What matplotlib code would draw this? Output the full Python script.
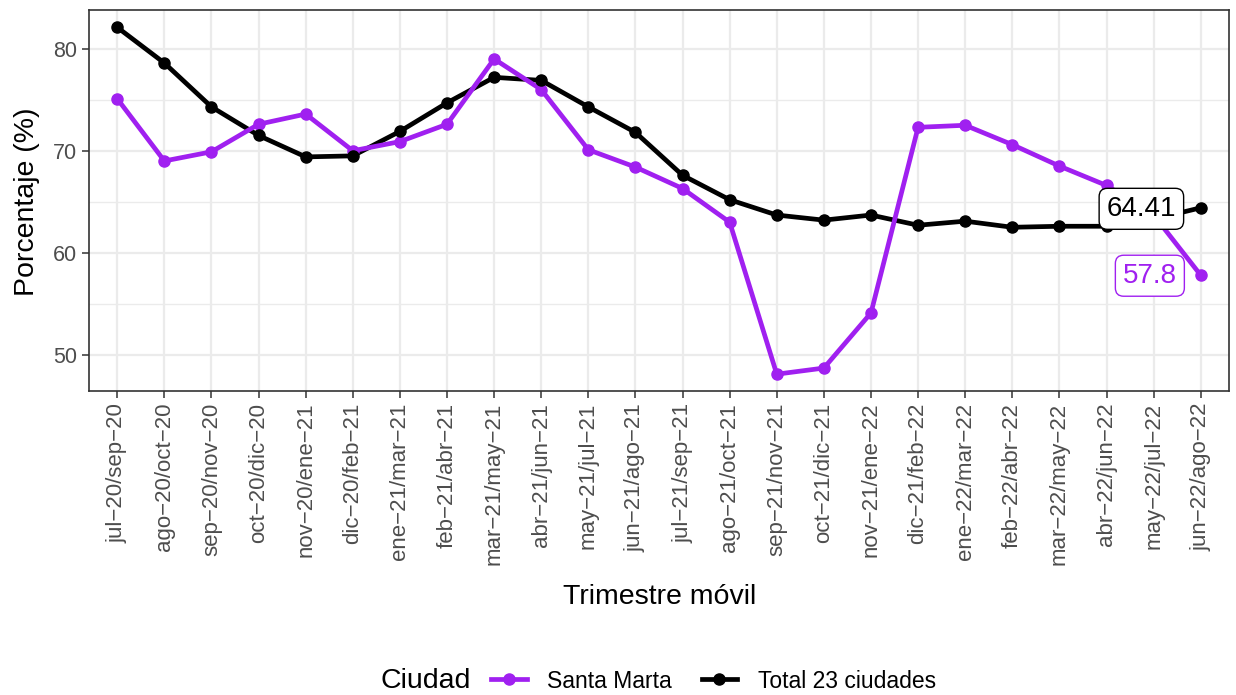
import matplotlib
matplotlib.use('Agg')
import matplotlib.pyplot as plt
from matplotlib.lines import Line2D
from matplotlib.ticker import FixedLocator

periodos = ["jul-20/sep-20", "ago-20/oct-20", "sep-20/nov-20", "oct-20/dic-20",
            "nov-20/ene-21", "dic-20/feb-21", "ene-21/mar-21", "feb-21/abr-21",
            "mar-21/may-21", "abr-21/jun-21", "may-21/jul-21", "jun-21/ago-21",
            "jul-21/sep-21", "ago-21/oct-21", "sep-21/nov-21", "oct-21/dic-21",
            "nov-21/ene-22", "dic-21/feb-22", "ene-22/mar-22", "feb-22/abr-22",
            "mar-22/may-22", "abr-22/jun-22", "may-22/jul-22", "jun-22/ago-22"]

santa_marta = [75.1, 69.0, 69.9, 72.6, 73.6, 70.0, 70.9, 72.6, 79.0, 76.0, 70.1, 68.4,
               66.3, 63.0, 48.1, 48.7, 54.1, 72.3, 72.5, 70.6, 68.5, 66.6, 63.7, 57.8]

total_23 = [82.1, 78.6, 74.3, 71.5, 69.4, 69.5, 71.9, 74.7, 77.2, 76.9, 74.3, 71.8,
            67.6, 65.2, 63.7, 63.2, 63.7, 62.7, 63.1, 62.5, 62.6, 62.6, 63.3, 64.41]

series_names = ["Santa Marta", "Total 23 ciudades"]
colors = ["#A020F0", "#000000"]

plt.rcParams['font.family'] = ['Liberation Sans', 'DejaVu Sans']

W, H = 1236, 695
fig = plt.figure(figsize=(W / 100, H / 100), dpi=100)
ax = fig.add_axes([89 / W, 1 - 391 / H, 1140 / W, 381 / H])

x = list(range(len(periodos)))
ax.plot(x, total_23, color=colors[1], lw=3.4, zorder=3, solid_capstyle='butt')
ax.plot(x, santa_marta, color=colors[0], lw=3.4, zorder=3, solid_capstyle='butt')
ax.plot(x, santa_marta, 'o', color=colors[0], ms=8, zorder=4)
ax.plot(x, total_23, 'o', color=colors[1], ms=8, zorder=4)

ax.set_xlim(-0.6, len(periodos) - 1 + 0.6)
ax.set_ylim(46.45, 83.8)
ax.yaxis.set_major_locator(FixedLocator([50, 60, 70, 80]))
ax.yaxis.set_minor_locator(FixedLocator([45, 55, 65, 75, 85]))
ax.set_xticks(x)
ax.set_xticklabels([p.replace('-', '\u2212') for p in periodos], rotation=90,
                   fontsize=16, color='#4D4D4D', va='top', ha='center')
ax.tick_params(axis='y', which='major', labelsize=15.5, labelcolor='#4D4D4D', pad=3.5)
ax.tick_params(axis='x', which='major', pad=3.5)
ax.tick_params(axis='both', which='major', color='#333333', length=5, width=1.1)
ax.tick_params(axis='y', which='minor', length=0)

ax.grid(True, which='major', color='#EBEBEB', lw=1.6, zorder=0)
ax.grid(True, which='minor', axis='y', color='#EBEBEB', lw=1.0, zorder=0)
ax.set_axisbelow(True)
for s in ax.spines.values():
    s.set_color('#333333')
    s.set_linewidth(1.2)

# end labels
n = len(periodos) - 1
ax.text(n - 1.26, total_23[-1] - 0.1, f"{total_23[-1]:g}", ha='center', va='center',
        fontsize=20, color='black', zorder=6,
        bbox=dict(boxstyle='round,pad=0.27,rounding_size=0.3', fc='white', ec='black', lw=1.0))
ax.text(n - 1.08, santa_marta[-1] - 0.05, f"{santa_marta[-1]:g}", ha='center', va='center',
        fontsize=20, color=colors[0], zorder=6,
        bbox=dict(boxstyle='round,pad=0.27,rounding_size=0.3', fc='white', ec=colors[0], lw=1.0))

fig.text(660 / W, 1 - 597 / H, "Trimestre móvil", ha='center', va='center', fontsize=20.5)
fig.text(27 / W, 1 - 202 / H, "Porcentaje (%)", ha='center', va='center', fontsize=20.5,
         rotation=90)

# legend
handles = [Line2D([0], [0], color=c, lw=3.4, marker='o', ms=8) for c in colors]
fig.text(380 / W, 1 - 681 / H, "Ciudad", ha='left', va='center', fontsize=20.5)
fig.legend(handles, series_names, loc='center left', bbox_to_anchor=(491 / W, 1 - 681 / H),
           ncol=2, frameon=False, fontsize=16.5, handlelength=1.55, handletextpad=0.9,
           columnspacing=1.3, borderpad=0, borderaxespad=0)

fig.savefig('out.png', dpi=100)
